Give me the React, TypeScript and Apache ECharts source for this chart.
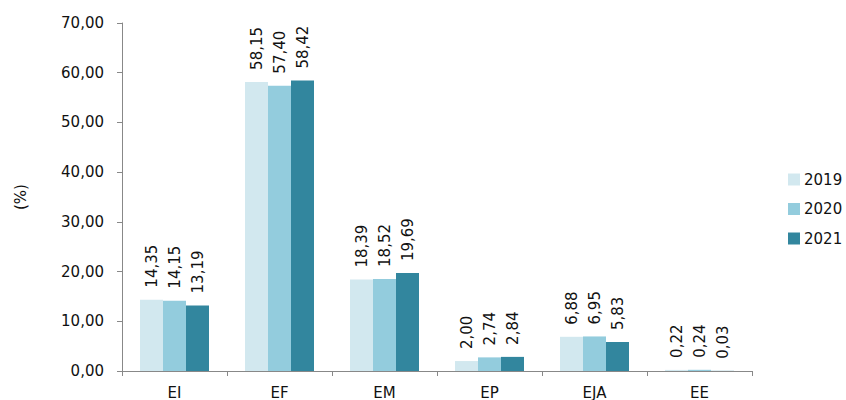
import React, { useEffect, useRef } from "react";
import * as echarts from "echarts";

const categories = ["EI", "EF", "EM", "EP", "EJA", "EE"];
const seriesNames = ["2019", "2020", "2021"];
const values2019 = [14.35, 58.15, 18.39, 2.0, 6.88, 0.22];
const values2020 = [14.15, 57.4, 18.52, 2.74, 6.95, 0.24];
const values2021 = [13.19, 58.42, 19.69, 2.84, 5.83, 0.03];
const colors = ["#D2E8EF", "#93CCDD", "#32869E"];

const FONT = "DejaVu Sans";
const fmt = (v: number) => v.toFixed(2).replace(".", ",");

export default function App() {
  const ref = useRef<HTMLDivElement>(null);
  useEffect(() => {
    if (!ref.current) return;
    const chart = echarts.init(ref.current, undefined, { renderer: "svg" });
    const data = [values2019, values2020, values2021];
    chart.setOption({
      animation: false,
      backgroundColor: "#ffffff",
      textStyle: { fontFamily: FONT },
      grid: { left: 122, right: 94, top: 23, bottom: 24 },
      legend: {
        orient: "vertical",
        left: 788,
        top: 172,
        padding: 0,
        itemWidth: 12,
        itemHeight: 12,
        itemGap: 14.5,
        icon: "rect",
        textStyle: { fontFamily: FONT, fontSize: 15, color: "#111", padding: [0, 0, 0, -1] },
        data: seriesNames,
      },
      xAxis: {
        type: "category",
        data: categories,
        axisLine: { lineStyle: { color: "#888", width: 1 } },
        axisTick: { show: true, length: 5, lineStyle: { color: "#888" } },
        axisLabel: { fontFamily: FONT, fontSize: 15, color: "#111", margin: 14 },
      },
      yAxis: {
        type: "value",
        min: 0,
        max: 70,
        interval: 10,
        name: "(%)",
        nameLocation: "middle",
        nameGap: 94,
        nameRotate: 90,
        nameTextStyle: { fontFamily: FONT, fontSize: 15, color: "#111" },
        axisLine: { show: true, lineStyle: { color: "#888", width: 1 } },
        axisTick: { show: true, length: 5, lineStyle: { color: "#888" } },
        splitLine: { show: false },
        axisLabel: {
          fontFamily: FONT,
          fontSize: 15,
          color: "#111",
          margin: 18,
          formatter: (v: number) => fmt(v),
        },
      },
      series: seriesNames.map((name, i) => ({
        name,
        type: "bar",
        data: data[i],
        barWidth: 23,
        barGap: "0%",
        itemStyle: { color: colors[i] },
        label: {
          show: true,
          position: "top",
          rotate: 90,
          align: "left",
          verticalAlign: "middle",
          distance: 12,
          fontFamily: FONT,
          fontSize: 15,
          color: "#111",
          formatter: (p: any) => fmt(p.value),
        },
      })),
    });
    return () => chart.dispose();
  }, []);
  return (
    <div
      ref={ref}
      style={{ position: "absolute", left: 0, top: 0, width: 846, height: 400 }}
    />
  );
}
